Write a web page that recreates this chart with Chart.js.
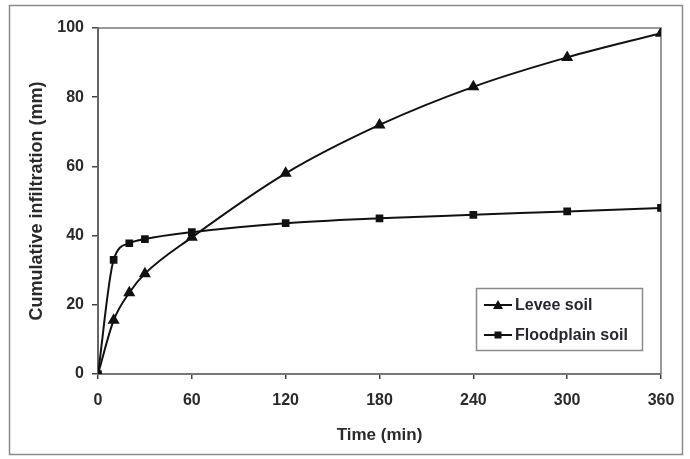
<!DOCTYPE html>
<html>
<head>
<meta charset="utf-8">
<script src="https://cdn.jsdelivr.net/npm/chart.js@4/dist/chart.umd.min.js"></script>
<style>
  html, body { margin: 0; padding: 0; background: #fff; }
  #wrap { width: 690px; height: 459px; position: relative; }
</style>
</head>
<body>
<div id="wrap"><canvas id="c"></canvas></div>
<script>
const times = [0, 10, 20, 30, 60, 120, 180, 240, 300, 360];
const leveeSoil = [0, 15.5, 23.5, 29, 39.5, 58, 72, 83, 91.5, 98.5];
const floodplainSoil = [0, 33, 37.8, 39, 41, 43.6, 45, 46, 47, 48];
const seriesNames = ['Levee soil', 'Floodplain soil'];
const xTicks = [0, 60, 120, 180, 240, 300, 360];
const yTicks = [0, 20, 40, 60, 80, 100];

const FONT = "'Liberation Sans', Arial, sans-serif";

const pts = (ys) => times.map((t, i) => ({ x: t, y: ys[i] }));

// outer frame + grey top/right plot border
const frame = {
  id: 'frame',
  beforeDraw(chart) {
    const c = chart.ctx;
    c.save();
    c.strokeStyle = '#8a8a8a';
    c.lineWidth = 1.5;
    c.strokeRect(9.5, 5.5, 673, 449);
    const a = chart.chartArea;
    c.strokeStyle = '#9a9a9a';
    c.lineWidth = 2;
    c.beginPath();
    c.moveTo(a.left, a.top);
    c.lineTo(a.right, a.top);
    c.lineTo(a.right, a.bottom);
    c.stroke();
    c.restore();
  }
};

// legend box drawn inside plot
const boxLegend = {
  id: 'boxLegend',
  afterDraw(chart) {
    const c = chart.ctx;
    c.save();
    c.fillStyle = '#fff';
    c.fillRect(476, 288, 167, 63);
    c.strokeStyle = '#8a8a8a';
    c.lineWidth = 1.5;
    c.strokeRect(476.5, 288.5, 166, 62);
    const rows = [305, 335];
    chart.data.datasets.forEach((ds, i) => {
      const y = rows[i];
      c.strokeStyle = '#111';
      c.lineWidth = 2;
      c.beginPath();
      c.moveTo(484, y);
      c.lineTo(512, y);
      c.stroke();
      c.fillStyle = '#111';
      c.beginPath();
      if (ds.pointStyle === 'triangle') {
        c.moveTo(498, y - 5);
        c.lineTo(503, y + 4);
        c.lineTo(493, y + 4);
        c.closePath();
      } else {
        c.rect(494.5, y - 3.5, 7, 7);
      }
      c.fill();
      c.font = 'bold 16px ' + FONT;
      c.textBaseline = 'middle';
      c.fillStyle = '#2a2430';
      c.fillText(ds.label, 515, y + 1);
    });
    c.restore();
  }
};

new Chart(document.getElementById('c'), {
  type: 'scatter',
  data: {
    datasets: [
      {
        label: seriesNames[0],
        data: pts(leveeSoil),
        showLine: true,
        borderColor: '#111',
        backgroundColor: '#111',
        borderWidth: 2,
        pointStyle: 'triangle',
        pointRadius: 5,
        cubicInterpolationMode: 'monotone'
      },
      {
        label: seriesNames[1],
        data: pts(floodplainSoil),
        showLine: true,
        borderColor: '#111',
        backgroundColor: '#111',
        borderWidth: 2,
        pointStyle: 'rect',
        pointRadius: 4,
        cubicInterpolationMode: 'monotone'
      }
    ]
  },
  options: {
    responsive: true,
    maintainAspectRatio: false,
    animation: false,
    layout: { padding: { left: 26, top: 28, right: 29, bottom: 13 } },
    plugins: {
      legend: { display: false },
      tooltip: { enabled: false }
    },
    scales: {
      x: {
        type: 'linear',
        min: 0,
        max: 360,
        afterFit: (s) => { s.height = 72; },
        afterBuildTicks: (s) => { s.ticks = xTicks.map(v => ({ value: v })); },
        grid: { drawOnChartArea: false, tickLength: 5, color: '#444', lineWidth: 1.5 },
        border: { display: true, color: '#777', width: 2 },
        ticks: { color: '#2a2a2a', padding: 12, maxRotation: 0, font: { family: FONT, size: 16, weight: 'bold' } },
        title: { display: true, text: 'Time (min)', color: '#2a2a2a', padding: { top: 8, bottom: 0 }, font: { family: FONT, size: 17, weight: 'bold' } }
      },
      y: {
        min: 0,
        max: 100,
        afterFit: (s) => { s.width = 72; },
        afterBuildTicks: (s) => { s.ticks = yTicks.map(v => ({ value: v })); },
        grid: { drawOnChartArea: false, tickLength: 6, color: '#444', lineWidth: 1.5 },
        border: { display: true, color: '#666', width: 2 },
        ticks: { color: '#2a2a2a', padding: 8, font: { family: FONT, size: 16, weight: 'bold' } },
        title: { display: true, text: 'Cumulative infiltration (mm)', color: '#2a2a2a', padding: { top: 0, bottom: 0 }, font: { family: FONT, size: 18, weight: 'bold' } }
      }
    }
  },
  plugins: [frame, boxLegend]
});
</script>
</body>
</html>
